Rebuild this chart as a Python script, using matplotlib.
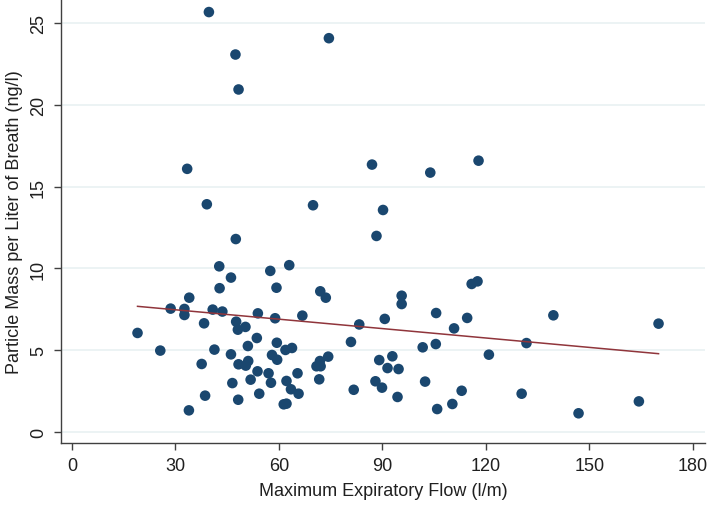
#!/usr/bin/env python

import numpy as np
import matplotlib
matplotlib.use('Agg')
import matplotlib.pyplot as plt

# values
flow = [39.7, 47.4, 48.3, 74.5, 33.4, 39.1, 69.9, 47.5,
        87.0, 103.9, 117.9, 90.2, 88.3,
        19.0, 25.6, 28.6, 32.6, 32.6, 34.0, 38.3, 37.6, 38.6, 33.9,
        41.3, 40.8, 43.6, 42.7, 42.8, 46.1, 47.6, 48.1, 50.3, 46.1,
        48.3, 50.4, 51.1, 51.0, 53.6, 46.5, 48.2, 51.8, 53.8, 54.3,
        53.9, 57.5, 63.0, 59.3, 58.9, 66.8, 57.0, 57.7, 58.0, 59.5,
        59.4, 61.9, 63.8, 62.2, 63.5, 65.4, 65.7, 61.4, 62.2, 72.0,
        73.6, 70.9, 72.1, 71.9, 74.3, 71.7, 80.9, 81.7, 83.3,
        90.7, 95.6, 95.6, 105.6, 110.8, 114.6, 115.9, 117.6, 101.7, 105.5,
        131.8, 139.6, 170.1, 130.4, 146.9, 164.4, 120.9, 113.0, 110.3, 105.9,
        102.4, 94.4, 89.9, 88.0, 89.1, 91.5, 92.9, 94.7]
mass = [25.7, 23.1, 20.96, 24.1, 16.1, 13.93, 13.87, 11.8,
        16.36, 15.87, 16.6, 13.58, 11.99,
        6.05, 4.97, 7.54, 7.52, 7.15, 8.21, 6.64, 4.15, 2.21, 1.31,
        5.03, 7.48, 7.36, 10.13, 8.79, 9.44, 6.74, 6.25, 6.42, 4.74,
        4.13, 4.05, 4.33, 5.25, 5.74, 2.98, 1.96, 3.19, 3.70, 2.33,
        7.25, 9.85, 10.2, 8.82, 6.95, 7.11, 3.58, 3.0, 4.70, 4.41,
        5.45, 5.01, 5.13, 3.11, 2.60, 3.58, 2.33, 1.68, 1.72, 8.60,
        8.21, 4.01, 4.01, 4.33, 4.60, 3.21, 5.50, 2.57, 6.57,
        6.91, 8.33, 7.82, 7.27, 6.33, 6.97, 9.05, 9.21, 5.17, 5.37,
        5.43, 7.13, 6.62, 2.33, 1.13, 1.86, 4.72, 2.51, 1.70, 1.39,
        3.07, 2.13, 2.70, 3.09, 4.39, 3.90, 4.62, 3.84]

# fitted line end points
fit_x = [19.0, 170.1]
fit_y = [7.68, 4.78]

xticks = [0, 30, 60, 90, 120, 150, 180]
yticks = [0, 5, 10, 15, 20, 25]

plt.rcParams['font.family'] = ['Liberation Sans', 'DejaVu Sans']

fig = plt.figure(figsize=(7.09, 5.06), dpi=100)
ax = fig.add_axes([0.086, 0.1225, 0.908, 0.8775])

for yv in yticks:
    ax.axhline(yv, color='#eaf2f3', lw=1.3, zorder=0)

ax.scatter(flow, mass, s=58, color='#1a476f', edgecolors='none', zorder=2)
ax.plot(fit_x, fit_y, color='#90353b', lw=1.1, zorder=3)

ax.set_xlim(-3.2, 183.5)
ax.set_ylim(-0.69, 26.5)
ax.set_xticks(xticks)
ax.set_yticks(yticks)
ax.set_yticklabels([str(v) for v in yticks], rotation=90, va='center')

for side in ['top', 'right']:
    ax.spines[side].set_visible(False)
for side in ['left', 'bottom']:
    ax.spines[side].set_color('#404040')
    ax.spines[side].set_linewidth(1.0)

ax.tick_params(direction='out', length=5, width=1.0, color='#404040',
               labelsize=13, pad=5, labelcolor='#202020')

ax.set_xlabel('Maximum Expiratory Flow (l/m)', fontsize=13, labelpad=6, color='#202020')
ax.set_ylabel('Particle Mass per Liter of Breath (ng/l)', fontsize=13, labelpad=5, color='#202020')

fig.savefig('out.png', dpi=100)
